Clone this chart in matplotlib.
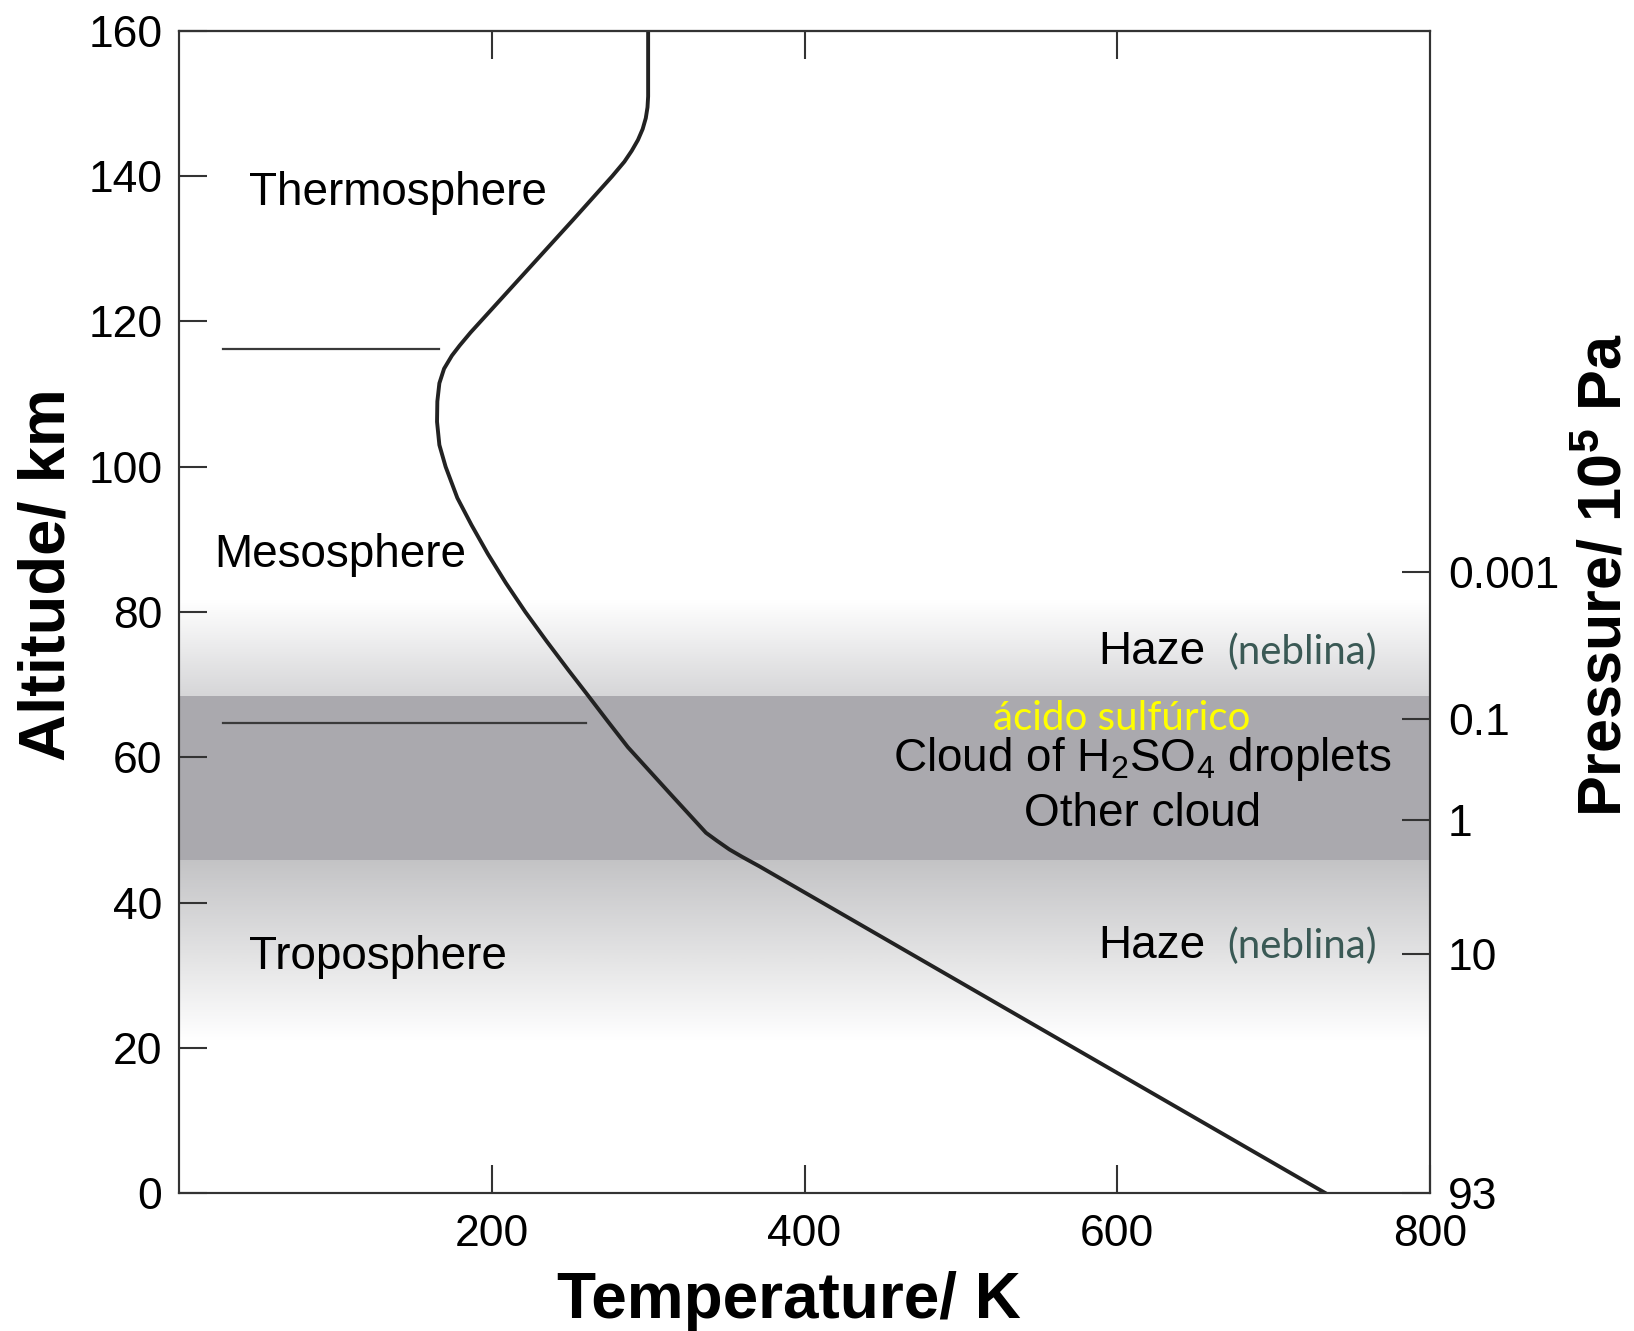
import numpy as np
import matplotlib
matplotlib.use("Agg")
import matplotlib.pyplot as plt

# temperature profile
alt_km = [0, 45.0, 46.3, 47.3, 48.5, 49.6, 55.0, 61.4, 65.0, 68.8, 72.0, 76.0,
          80.0, 84.0, 88.0, 92.0, 95.7, 100.0, 103.0, 106.2, 109.0, 111.5,
          113.5, 115.3, 116.7, 118.5, 134.0, 140.0, 142.0, 143.5, 145.0, 146.5,
          148.0, 149.5, 151.0, 160]
temp_K = [733, 371, 360, 352, 344, 337, 314, 287, 274, 260.5, 249, 235,
          221.5, 209, 197.5, 187, 178, 170.5, 166.5, 165, 165.2, 166.5,
          169.5, 174.5, 179.5, 186.5, 252, 277, 284.8, 289.5, 293.5, 296.5,
          298.5, 299.6, 300, 300]

alt_ticks = [0, 20, 40, 60, 80, 100, 120, 140, 160]
temp_ticks = [200, 400, 600, 800]
top_ticks = [200, 400, 600]
pressure_alt = [85.5, 65.3, 51.4, 32.9, 0]
pressure_labels = ["0.001", "0.1", "1", "10", "93"]

cloud_band = [45.9, 68.4]
haze_upper = [68.4, 81.5]
haze_lower = [21.0, 45.9]

# layer boundaries: altitude, T start, T end
boundaries = [(116.2, 28, 166), (64.7, 28, 260)]

plt.rcParams["font.family"] = ["Liberation Sans", "DejaVu Sans"]
plt.rcParams["mathtext.fontset"] = "custom"
plt.rcParams["mathtext.rm"] = "Liberation Sans"
plt.rcParams["mathtext.it"] = "Liberation Sans:italic"
plt.rcParams["mathtext.bf"] = "Liberation Sans:bold"

fig = plt.figure(figsize=(16.34, 13.31), dpi=100)
ax = fig.add_axes([0.10955, 0.10368, 0.76561, 0.87303])

# shading
def gradient(lo, hi, c_lo, c_hi):
    n = 200
    t = np.linspace(0, 1, n)[:, None]
    c_lo = np.array(matplotlib.colors.to_rgb(c_lo))
    c_hi = np.array(matplotlib.colors.to_rgb(c_hi))
    img = (c_lo * (1 - t) + c_hi * t)[:, None, :]
    ax.imshow(img, extent=[0, 800, lo, hi], origin="lower", aspect="auto",
              zorder=0, interpolation="bilinear")

gradient(haze_upper[0], haze_upper[1], "#d6d6d8", "#ffffff")
gradient(haze_lower[0], haze_lower[1], "#ffffff", "#c3c3c5")
ax.axhspan(cloud_band[0], cloud_band[1], color="#aaa9ae", lw=0, zorder=0.5)

ax.plot(temp_K, alt_km, color="#222222", lw=2.8, zorder=3,
        solid_joinstyle="round")
for a, t0, t1 in boundaries:
    ax.plot([t0, t1], [a, a], color="#3a3a3a", lw=1.6, zorder=2)

ax.set_xlim(0, 800)
ax.set_ylim(0, 160)

ax.set_yticks(alt_ticks)
ax.set_xticks(temp_ticks)
ax.tick_params(axis="y", direction="in", length=20, width=1.5, color="#333333",
               labelsize=32, pad=12)
ax.tick_params(axis="x", direction="in", length=20, width=1.5, color="#333333",
               labelsize=32, pad=15)
for s in ax.spines.values():
    s.set_linewidth(1.5)
    s.set_color("#333333")

# top ticks without labels
axt = ax.secondary_xaxis("top")
axt.set_xticks(top_ticks)
axt.set_xticklabels([])
axt.tick_params(direction="in", length=20, width=1.5, color="#333333")
axt.spines["top"].set_linewidth(1.5)
axt.spines["top"].set_color("#333333")

# pressure axis
ax2 = ax.twinx()
ax2.set_ylim(0, 160)
ax2.set_yticks(pressure_alt)
ax2.set_yticklabels(pressure_labels)
ax2.tick_params(axis="y", direction="in", length=20, width=1.5, color="#333333",
                labelsize=32, pad=13)
for s in ax2.spines.values():
    s.set_linewidth(1.5)
    s.set_color("#333333")

# region labels
fs = 33
ax.text(44.7, 136.0, "Thermosphere", fontsize=fs, va="baseline", ha="left")
ax.text(22.7, 86.2, "Mesosphere", fontsize=fs, va="baseline", ha="left")
ax.text(44.6, 30.8, "Troposphere", fontsize=fs, va="baseline", ha="left")

ax.text(588, 72.8, "Haze", fontsize=fs, va="baseline", ha="left")
ax.text(766, 72.8, "(neblina)", fontsize=29, va="baseline", ha="right",
        color="#3a5955", family=["Lato", "DejaVu Sans"])
ax.text(588, 32.4, "Haze", fontsize=fs, va="baseline", ha="left")
ax.text(766, 32.4, "(neblina)", fontsize=29, va="baseline", ha="right",
        color="#3a5955", family=["Lato", "DejaVu Sans"])

ax.text(603, 63.8, "ácido sulfúrico", fontsize=29, va="baseline", ha="center",
        color="#ffff00", family=["Lato", "DejaVu Sans"])
ax.text(616, 58.1, "Cloud of H$_2$SO$_4$ droplets", fontsize=fs,
        va="baseline", ha="center")
ax.text(616, 50.6, "Other cloud", fontsize=fs, va="baseline", ha="center")

# axis titles
fig.text(0.483, 1 - 1318 / 1331, "Temperature/ K", fontsize=46,
         fontweight="bold", ha="center", va="baseline")
fig.text(0.029, 0.568, "Altitude/ km", fontsize=47, fontweight="bold",
         rotation=90, ha="center", va="center")
fig.text(0.983, 0.568, r"Pressure/ 10$^{\mathbf{5}}$ Pa", fontsize=44,
         fontweight="bold", rotation=90, ha="center", va="center")

fig.savefig("out.png", dpi=100)
